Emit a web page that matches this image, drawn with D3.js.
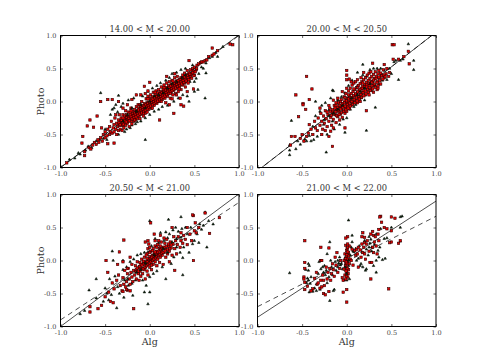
<!DOCTYPE html>
<html>
<head>
<meta charset="utf-8">
<script src="https://cdn.jsdelivr.net/npm/d3@7"></script>
<style>
  html, body { margin: 0; background: #fff; }
  text { font-family: "DejaVu Serif", serif; }
</style>
</head>
<body>
<div id="chart"></div>
<script>
const titles = ['14.00 < M < 20.00', '20.00 < M < 20.50', '20.50 < M < 21.00', '21.00 < M < 22.00'];
const tickValues = [-1, -0.5, 0, 0.5, 1];
const tickLabels = ['-1.0', '-0.5', '0.0', '0.5', '1.0'];

// fit lines, [x0, y0, x1, y1]
const solidLines = [[-1, -1, 1, 1.01], [-1, -1.05, 1, 1.05], [-1, -1.0, 1, 1.01], [-1, -0.86, 1, 0.9]];
const dashedLines = [[-1, -1, 1, 1.0], [-1, -1.05, 1, 1.05], [-1, -0.9, 1, 0.88], [-1, -0.7, 1, 0.67]];

const red1 = [[-.93,-.93],[-.76,-.63],[-.75,-.53],[-.73,-.76],[-.73,-.82],[-.67,-.28],[-.70,-.37],[-.63,-.39],[-.59,-.22],[-.55,0],[-.54,-.40],[-.47,.03],[-.42,.03],[-.35,0],[-.40,-.63],[-.47,-.64],[-.06,.23],[0,.29],[-.02,.16],[.11,-.28],[.19,.38],[.28,.42],[.27,-.18],[.34,.05],[.35,-.05],[.38,-.07],[.49,.19],[.44,.62],[.70,.81],[.90,.87],[.93,.86],
[-.68,-.70],[-.66,-.72],[-.64,-.66],[-.62,-.62],[-.6,-.65],[-.58,-.58],[-.57,-.62],[-.55,-.55],[-.53,-.6],[-.52,-.5],[-.5,-.55],[-.5,-.46],[-.48,-.52],[-.47,-.42],[-.45,-.5],[-.45,-.38],[-.44,-.46],[-.43,-.3],[-.42,-.48],[-.41,-.4],[-.4,-.35],[-.4,-.46],[-.39,-.25],[-.38,-.42],[-.37,-.33],[-.37,-.5],[-.36,-.38],[-.35,-.28],[-.35,-.44],[-.34,-.2],[-.34,-.36],[-.33,-.3],[-.33,-.42],[-.32,-.25],[-.32,-.36],[-.31,-.44],[-.31,-.3],[-.3,-.2],[-.3,-.36],[-.29,-.27],[-.29,-.4],[-.28,-.32],[-.28,-.22],[-.27,-.14],[-.27,-.36],[-.26,-.28],[-.26,-.2],[-.25,-.33],[-.25,-.24],[-.24,-.16],[-.24,-.3],[-.23,-.38],[-.23,-.22],[-.22,-.27],[-.22,-.17],[-.21,-.3],[-.21,-.1],[-.2,-.22],[-.2,-.34],[-.19,-.26],[-.19,-.15],[-.18,-.2],[-.18,-.3],[-.17,-.12],[-.17,-.24],[-.16,-.17],[-.16,-.28],[-.15,-.08],[-.15,-.21],[-.14,-.14],[-.14,-.26],[-.13,-.18],[-.13,-.05],[-.12,-.22],[-.12,-.1],[-.11,-.15],[-.11,-.26],[-.1,-.07],[-.1,-.19],[-.09,-.12],[-.09,0],[-.08,-.16],[-.08,-.06],[-.07,-.22],[-.07,-.1],[-.06,-.03],[-.06,-.14],[-.05,-.18],[-.05,-.07],[-.04,.04],[-.04,-.11],[-.03,-.02],[-.03,-.16],[-.02,-.07],[-.02,.08],[-.01,-.12],[-.01,-.01],[0,.05],[0,-.08],[.01,-.03],[.01,.1],[.02,-.1],[.02,.02],[.03,.07],[.03,-.04],[.04,.01],[.04,.14],[.05,-.06],[.05,.05],[.06,.1],[.06,.0],[.07,.04],[.07,.16],[.08,-.03],[.08,.08],[.09,.13],[.09,.02],[.1,.06],[.1,.18],[.11,.0],[.11,.11],[.12,.15],[.12,.05],[.13,.09],[.13,.22],[.14,.03],[.14,.13],[.15,.18],[.15,.08],[.16,.12],[.16,.25],[.17,.05],[.17,.16],[.18,.21],[.18,.1],[.19,.15],[.19,.28],[.2,.08],[.2,.19],[.21,.24],[.21,.13],[.22,.17],[.22,.3],[.23,.05],[.23,.21],[.24,.26],[.24,.14],[.25,.2],[.25,.32],[.26,.1],[.26,.24],[.27,.28],[.27,.17],[.28,.22],[.28,.36],[.29,.12],[.29,.26],[.3,.31],[.3,.2],[.31,.25],[.31,.38],[.32,.15],[.32,.29],[.33,.33],[.33,.22],[.34,.27],[.35,.36],[.35,.18],[.36,.31],[.37,.25],[.37,.4],[.38,.34],[.39,.28],[.39,.43],[.4,.36],[.41,.3],[.42,.4],[.42,.47],[.43,.34],[.44,.43],[.45,.38],[.46,.48],[.47,.42],[.48,.5],[.49,.46],[.5,.4],[.5,.52],[.52,.48],[.53,.55],[.55,.57],[.57,.59],[.58,.6],[.6,.6],[.62,.62],[.64,.63],[.66,.68],[.7,.7],[.72,.72],[.76,.77],[.4,.22],[.42,.15],[.3,.1],[.22,-.05],[.18,-.02],[.25,.04],[-.15,.1],[-.2,.03],[-.25,-.05],[-.3,-.1],[-.38,-.2],[-.1,.1],[-.05,.12]];
const core1 = [[-.345,-.325],[-.332,-.352],[-.318,-.29],[-.305,-.322],[-.296,-.345],[-.288,-.262],[-.276,-.295],[-.263,-.31],[-.257,-.245],[-.248,-.272],[-.236,-.256],[-.229,-.292],[-.217,-.205],[-.209,-.235],[-.198,-.262],[-.192,-.19],[-.183,-.218],[-.176,-.245],[-.168,-.176],[-.161,-.205],[-.153,-.232],[-.146,-.155],[-.138,-.184],[-.131,-.21],[-.124,-.128],[-.117,-.165],[-.109,-.19],[-.103,-.112],[-.096,-.145],[-.089,-.172],[-.083,-.092],[-.076,-.122],[-.069,-.15],[-.062,-.07],[-.056,-.104],[-.049,-.13],[-.043,-.05],[-.036,-.085],[-.029,-.112],[-.023,-.03],[-.016,-.062],[-.009,-.09],[-.003,-.012],[.004,-.045],[.011,-.07],[.017,.018],[.024,-.022],[.031,-.05],[.037,.036],[.044,-.006],[.051,-.03],[.057,.055],[.064,.018],[.071,-.012],[.077,.074],[.084,.034],[.091,.006],[.097,.095],[.104,.052],[.111,.026],[.117,.115],[.124,.072],[.131,.044],[.137,.135],[.144,.094],[.151,.064],[.157,.152],[.164,.112],[.171,.084],[.177,.175],[.184,.132],[.191,.104],[.197,.196],[.204,.154],[.211,.124],[.217,.214],[.224,.172],[.231,.145],[.237,.236],[.244,.192],[.251,.164],[.257,.255],[.264,.214],[.271,.185],[.277,.276],[.284,.234],[.291,.205],[.297,.296],[.304,.254],[.311,.226],[.318,.316],[.326,.275],[.334,.244],[.342,.335],[.35,.294],[.358,.265],[.366,.352],[.374,.315],[.382,.288],[.39,.372],[.398,.334],[.408,.31],[.418,.392],[.428,.356],[.438,.33],[.448,.412],[.458,.374],[.47,.352],[.482,.436],[.495,.392],[.51,.45],[.525,.5],[-.02,.04],[.06,.14],[.16,.21],[.26,.31],[-.11,-.05],[-.21,-.14],[-.3,-.25],[.13,.0],[.23,.12],[.33,.19],[-.07,-.18],[-.17,-.28],[.03,-.1],[.43,.28]];
const tri1 = [[-.55,.13],[-.05,-.58],[.62,.05],[-.35,.09],[-.84,-.86],[-.78,-.8],[-.8,-.78],[-.9,-.88],[.63,.43],[.76,.68],[.5,.15],[.54,.18],[.44,0],[-.72,-.74],[-.69,-.68],[-.65,-.7],[-.6,-.6],[-.56,-.58],[-.52,-.56],[-.5,-.42],[-.48,-.58],[-.44,-.2],[-.42,-.12],[-.4,-.1],[-.38,-.05],[-.36,-.16],[-.35,-.5],[-.32,-.08],[-.3,-.03],[-.28,-.46],[-.26,-.42],[-.24,.02],[-.22,-.4],[-.2,-.36],[-.18,.05],[-.16,-.34],[-.14,-.31],[-.1,-.3],[-.08,.08],[-.05,-.25],[-.02,.15],[0,-.2],[.03,.2],[.05,-.15],[.08,.24],[.1,-.12],[.12,.28],[.14,-.08],[.18,.32],[.2,-.06],[.22,.36],[.25,.42],[.27,.0],[.3,.44],[.32,.05],[.35,.48],[.37,.1],[.4,.5],[.42,.08],[.45,.3],[.48,.55],[.5,.3],[.52,.35],[.55,.42],[.58,.52],[.6,.5],[.63,.58],[.67,.66],[.7,.68],[.74,.74],[.82,.83]];
const top1 = [[-.2,-.1],[-.1,-.05],[.0,.0],[.1,.1],[.2,.2],[.3,.3],[-.3,-.3],[-.15,-.15],[.05,.08],[.15,.13],[.25,.27],[.36,.36],[-.25,-.2],[-.05,-.1],[.4,.4]];

// panel 2
const red2 = [[.51,.86],[.53,.86],[-.45,.38],[-.39,.19],[-.57,.10],[-.42,.03],[-.49,-.03],[-.49,-.05],[-.46,-.12],[-.54,-.23],[0,.47],[0,.40],[0,.33],[-.16,-.68],[-.02,-.40],[-.2,-.53],[-.63,-.66],[-.62,-.53],[-.58,-.53],[.29,.58],[.19,.44],[.64,.68],[.69,.76],[.70,.57],[.52,.64],[.58,.64],[.42,.56],[.34,.18],[.22,-.14],
[-.52,-.56],[-.5,-.5],[-.48,-.6],[-.45,-.53],[-.43,-.48],[-.42,-.35],[-.4,-.42],[-.38,-.5],[-.36,-.3],[-.35,-.4],[-.33,-.44],[-.32,-.25],[-.3,-.36],[-.29,-.18],[-.28,-.3],[-.27,-.42],[-.26,-.22],[-.25,-.33],[-.24,-.14],[-.23,-.26],[-.22,-.38],[-.21,-.2],[-.2,-.3],[-.19,-.1],[-.18,-.24],[-.17,-.36],[-.16,-.16],[-.15,-.27],[-.14,-.06],[-.13,-.2],[-.12,-.32],[-.11,-.12],[-.1,-.23],[-.09,-.02],[-.09,-.15],[-.08,-.28],[-.07,-.08],[-.07,-.19],[-.06,.03],[-.06,-.11],[-.05,-.24],[-.05,-.03],[-.04,-.14],[-.03,.07],[-.03,-.07],[-.02,-.18],[-.02,.01],[-.01,-.1],[-.01,.12],[0,-.03],[0,-.15],[.01,.05],[.01,-.07],[.02,.16],[.02,-.01],[.03,-.11],[.03,.09],[.04,.02],[.04,.2],[.05,-.06],[.05,.12],[.06,.05],[.06,.25],[.07,-.02],[.07,.15],[.08,.08],[.08,.28],[.09,.02],[.09,.18],[.1,.11],[.1,.3],[.11,.05],[.11,.21],[.12,.14],[.12,.33],[.13,.08],[.13,.24],[.14,.17],[.15,.27],[.15,.1],[.16,.2],[.16,.36],[.17,.13],[.17,.3],[.18,.23],[.19,.16],[.19,.33],[.2,.26],[.21,.1],[.21,.36],[.22,.29],[.23,.19],[.23,.4],[.24,.32],[.25,.25],[.25,.43],[.26,.35],[.27,.2],[.27,.45],[.28,.38],[.29,.3],[.3,.41],[.3,.24],[.31,.35],[.32,.45],[.33,.38],[.34,.3],[.35,.42],[.36,.47],[.37,.36],[.38,.43],[.4,.4],[.41,.48],[.42,.36],[.44,.42],[.45,.5],[.47,.38],[.48,.44],[-.15,-.4],[-.18,-.45],[-.24,-.44],[-.28,-.5],[-.12,-.02],[-.1,.05],[-.15,.02],[-.2,-.06],[.05,.3],[.0,.2],[.03,.34],[.15,.0],[.12,-.02],[.25,.1],[.3,.14],[.35,.2],[-.05,.15],[-.3,-.1]];
const core2 = [[-.185,-.15],[-.172,-.21],[-.158,-.125],[-.145,-.19],[-.132,-.1],[-.124,-.155],[-.112,-.215],[-.103,-.085],[-.094,-.135],[-.086,-.195],[-.077,-.06],[-.068,-.115],[-.059,-.17],[-.051,-.04],[-.043,-.09],[-.034,-.15],[-.026,-.02],[-.018,-.07],[-.009,-.125],[-.002,.01],[.007,-.045],[.015,-.1],[.023,.04],[.032,-.025],[.041,-.07],[.049,.06],[.057,.0],[.066,-.045],[.074,.09],[.083,.03],[.091,-.02],[.099,.115],[.108,.055],[.116,.008],[.124,.145],[.133,.08],[.141,.036],[.149,.175],[.158,.105],[.166,.06],[.174,.2],[.183,.135],[.191,.085],[.199,.225],[.208,.16],[.216,.115],[.224,.25],[.233,.185],[.241,.14],[.249,.275],[.258,.21],[.266,.165],[.274,.3],[.283,.24],[.291,.19],[.3,.325],[.31,.265],[.32,.215],[.33,.35],[.34,.29],[.35,.24],[.36,.37],[.37,.315],[.38,.265],[.392,.39],[.405,.34],[.418,.4],[.43,.375],[-.02,.06],[.08,.19],[.18,.28],[-.12,-.06],[-.22,-.16],[.28,.29],[.02,.1],[.12,.21],[-.07,.0],[.22,.22]];
const tri2 = [[.69,.87],[-.62,-.29],[-.35,0],[-.64,-.66],[-.64,-.74],[-.64,-.81],[-.57,-.72],[-.23,-.77],[.22,-.44],[-.02,-.47],[.75,.62],[.75,.48],[.58,.33],[.63,.64],[.32,-.09],[.18,.56],[.12,.44],[-.16,.17],[-.15,.16],[-.40,-.6],[-.45,-.6],[-.37,-.58],[-.55,-.6],[-.52,-.65],[-.47,-.57],[-.42,-.52],[-.38,-.38],[-.35,-.22],[-.33,-.53],[-.3,-.15],[-.28,-.06],[-.26,-.35],[-.24,-.02],[-.22,-.5],[-.2,-.13],[-.18,.05],[-.16,-.3],[-.14,-.42],[-.12,-.12],[-.1,.02],[-.08,-.35],[-.06,.07],[-.04,-.27],[-.02,.13],[0,-.25],[.02,.24],[.04,-.12],[.06,.32],[.08,-.08],[.1,-.05],[.12,.24],[.14,.04],[.16,.05],[.18,.4],[.2,.02],[.22,.38],[.24,.14],[.26,.48],[.28,.16],[.3,.5],[.32,.24],[.34,.5],[.36,.26],[.38,.5],[.4,.32],[.42,.47],[.45,.33],[.48,.5],[.5,.42],[.53,.6],[.55,.62],[.6,.62]];
const top2 = [[.12,.1],[.05,.05],[-.05,-.06],[-.1,-.12],[-.2,-.22],[.2,.2],[-.15,-.18],[.15,.15],[-.25,-.28],[.26,.27]];

// panel 3
const red3 = [[.78,.65],[.62,.72],[.49,.68],[.48,.69],[.01,.57],[-.29,.31],[-.49,0],[-.34,.13],[-.18,-.73],[-.67,-.78],[-.67,-.70],[-.58,-.73],[-.54,-.68],[-.41,-.64],[-.47,-.18],[.49,0],[.28,-.15],[.67,.41],[.51,.57],[.55,.5],[.52,.42],[.42,.5],[.35,.42],[.25,.5],[.05,.4],[-.02,.3],[-.05,.28],[.12,.38],
[-.5,-.55],[-.46,-.48],[-.44,-.62],[-.42,-.34],[-.4,-.43],[-.37,-.3],[-.35,-.22],[-.33,-.38],[-.31,-.46],[-.3,-.26],[-.29,-.36],[-.28,-.15],[-.27,-.4],[-.26,-.32],[-.25,-.45],[-.25,-.2],[-.24,-.12],[-.23,-.28],[-.22,-.36],[-.21,-.18],[-.2,-.25],[-.2,-.06],[-.19,-.32],[-.18,-.15],[-.17,-.22],[-.16,-.08],[-.15,-.28],[-.15,-.14],[-.14,-.02],[-.13,-.2],[-.12,-.1],[-.12,-.3],[-.11,-.16],[-.1,-.06],[-.1,-.24],[-.09,.02],[-.08,-.12],[-.08,-.2],[-.07,-.05],[-.06,-.14],[-.06,.05],[-.05,-.1],[-.05,-.28],[-.04,-.02],[-.03,-.16],[-.03,.1],[-.02,-.06],[-.02,-.22],[-.01,0],[0,-.1],[0,.06],[.01,-.03],[.01,.14],[.02,-.14],[.02,.02],[.03,.08],[.04,-.06],[.04,.18],[.05,.03],[.05,.12],[.06,-.02],[.06,.22],[.07,.06],[.08,.14],[.08,-.08],[.09,.02],[.09,.24],[.1,.09],[.11,.18],[.11,-.03],[.12,.05],[.13,.14],[.13,.28],[.14,.08],[.15,.2],[.15,-.06],[.16,.12],[.17,.26],[.18,.05],[.18,.16],[.19,.32],[.2,.1],[.21,.22],[.22,-.02],[.22,.14],[.23,.28],[.24,.19],[.25,.08],[.26,.25],[.27,.36],[.28,.18],[.29,.3],[.3,.1],[.31,.24],[.32,.36],[.34,.2],[.35,.3],[.37,.26],[.38,.38],[.4,.32],[.42,.24],[.45,.4],[.47,.3],[.5,.45],[-.3,-.47],[-.26,-.44],[-.22,-.46],[-.02,.18],[-.01,.25],[0,.2],[.06,.3],[.1,.3],[.16,.34],[-.36,-.06],[-.3,-.02],[-.25,-.12],[-.22,.05]];
const core3 = [[-.155,-.17],[-.14,-.115],[-.126,-.16],[-.112,-.09],[-.098,-.14],[-.086,-.07],[-.074,-.125],[-.063,-.05],[-.052,-.1],[-.044,-.035],[-.035,-.08],[-.027,-.015],[-.018,-.06],[-.01,.015],[-.002,-.04],[.007,.03],[.015,-.02],[.023,.05],[.032,.0],[.04,.07],[.048,.02],[.057,.09],[.065,.04],[.073,.105],[.082,.06],[.09,.125],[.098,.075],[.107,.145],[.115,.09],[.123,.165],[.132,.11],[.14,.18],[.15,.125],[.16,.2],[.172,.145],[.185,.215],[.198,.165],[.21,.25],[.224,.18],[.24,.235],[-.03,.03],[.0,.12],[.03,.15],[-.07,-.01],[.06,.13],[.12,.22],[-.11,-.03],[-.04,.08],[.08,.2],[.02,-.07]];
const tri3 = [[-.68,-.45],[-.6,-.28],[-.45,-.28],[-.42,.14],[-.41,0],[-.3,0],[-.78,-.81],[-.73,-.76],[-.37,-.72],[-.02,-.66],[.37,.04],[.37,-.22],[.18,-.28],[.64,.2],[.62,.73],[.35,.66],[.21,.62],[0,.6],[-.06,-.48],[0,-.48],[-.29,-.56],[-.19,-.53],[.6,.53],[.71,.55],[.55,.27],[-.6,-.57],[-.52,-.62],[-.5,-.42],[-.48,-.5],[-.46,-.6],[-.43,-.52],[-.39,-.24],[-.36,-.4],[-.34,-.5],[-.3,-.14],[-.28,-.3],[-.26,-.1],[-.24,-.38],[-.22,-.02],[-.2,-.35],[-.18,.02],[-.16,-.3],[-.14,.08],[-.12,-.2],[-.1,.1],[-.08,-.3],[-.06,.12],[-.04,-.38],[-.02,.13],[0,-.25],[.02,.22],[.04,-.2],[.06,.33],[.08,-.16],[.1,.27],[.12,.42],[.14,-.1],[.16,.3],[.18,.43],[.2,.34],[.22,.4],[.24,-.05],[.26,.46],[.27,.05],[.29,.5],[.3,.2],[.32,.44],[.34,.12],[.36,.48],[.38,.2],[.4,.5],[.42,.4],[.44,.12],[.46,.5],[.48,.25],[.5,.3],[.53,.4],[.56,.55],[.58,.47],[.66,.6]];
const top3 = [[-.05,-.04],[.05,.08],[.15,.18],[-.15,-.18],[-.1,-.14],[.25,.28],[.35,.35],[-.25,-.28],[.3,.33],[.2,.12]];

// panel 4
const red4 = [[-.47,.30],[.47,-.43],[0,-.63],[0,-.44],[.27,-.28],[.5,.66],[.38,.67],[.54,.64],[.39,.58],[.37,.66],[.45,.48],[.5,.45],[.29,.44],[.36,.47],[.18,.42],[.17,.36],[.01,.36],[-.01,.34],[-.29,.2],[-.2,.19],[.2,.35],[.27,.4],[.3,.38],[.32,.36],[.35,.4],[.42,.5],[.6,.3],[.58,.26],[.5,.28],[.48,.27],
[-.47,-.03],[-.47,-.12],[-.48,-.25],[-.48,-.28],[-.47,-.33],[-.47,-.44],[-.44,-.39],[-.38,-.43],[-.34,-.18],[-.33,-.36],[-.32,-.34],[-.3,-.42],[-.29,-.3],[-.29,.0],[-.28,-.4],[-.27,-.22],[-.26,-.5],[-.26,-.3],[-.25,-.38],[-.24,-.52],[-.23,-.1],[-.22,-.28],[-.21,-.18],[-.2,-.47],[-.19,-.12],[-.18,-.3],[-.17,-.2],[-.16,-.05],[-.15,-.14],[-.14,-.24],[-.13,.05],[-.12,-.07],[-.11,.12],[-.1,-.18],[-.08,-.12],[-.07,.0],[-.05,-.26],[-.04,-.48],[-.04,-.3],[-.03,.0],[-.03,-.13],[-.02,-.22],[-.02,.1],[-.01,-.04],[-.01,-.28],[-.01,.23],[0,.05],[0,-.1],[0,-.18],[.0,.15],[.01,-.02],[.01,-.25],[.01,.25],[.02,.07],[.02,-.14],[.02,.12],[.03,-.05],[.03,.22],[.04,.02],[.05,.0],[.06,.17],[.07,-.07],[.09,.15],[.1,.08],[.11,.17],[.12,.1],[.13,-.1],[.15,.16],[.16,.05],[.17,.25],[.18,.12],[.19,.2],[.2,.27],[.21,.02],[.22,.25],[.23,.3],[.25,.14],[.26,-.03],[.28,-.03],[.29,.2],[.3,.12],[.31,.28],[.33,.22],[.34,.1],[.36,.3],[-.4,-.46],[-.36,-.27],[-.28,.0],[.13,.2],[.2,.1]];
const core4 = [[0,-.05],[.005,-.12],[-.005,-.02],[.008,.02],[-.008,-.16],[0,.09],[.004,.18],[-.004,-.24],[.012,.13],[-.012,.03],[.015,-.2],[-.015,-.08],[.01,.2]];
const tri4 = [[-.64,-.19],[.02,.61],[-.19,-.61],[.62,.67],[.6,.66],[.6,.29],[.6,.5],[.43,.03],[.4,.01],[-.19,.28],[-.43,-.05],[.06,.38],[.38,.48],[.5,.5],[.42,.33],[.45,.34],[.25,.36],[.31,.24],[.33,.4],[.25,.2],[.27,.32],[.2,.3],[.35,.15],[.37,.2],[.33,.0],[.33,-.18],[.3,-.08],[.22,-.13],[.21,-.15],[.18,-.1],[.16,-.05],[.15,-.08],[.13,.03],[.1,.18],[.08,.13],[.06,.28],[.05,.2],[.04,.08],[.03,-.28],[.02,-.08],[.01,.1],[0,-.3],[-.01,-.15],[-.02,.04],[-.03,-.3],[-.05,-.13],[-.07,-.07],[-.09,-.04],[-.1,-.1],[-.12,-.15],[-.13,-.02],[-.14,-.44],[-.15,-.46],[-.16,-.22],[-.17,-.1],[-.18,.0],[-.2,-.25],[-.22,.1],[-.23,-.15],[-.24,-.22],[-.25,-.08],[-.27,-.1],[-.29,-.13],[-.3,-.44],[-.32,-.2],[-.34,-.46],[-.36,-.42],[-.38,-.47],[-.4,-.25],[-.42,-.48],[-.43,-.3],[-.44,-.27],[-.45,-.34],[-.43,-.15],[-.42,-.08],[-.46,-.14],[-.41,-.35],[-.34,-.36],[-.31,-.02],[-.26,-.18],[-.22,-.34],[-.1,.0],[-.08,.05],[.07,.14],[.11,.0],[.14,.22],[.17,.13],[.24,.08],[.26,.26],[.28,.14],[.36,.05],[.28,.2],[.22,.17]];
const top4 = [[-.02,-.1],[.02,.0],[.0,-.2],[-.06,-.05]];

const redSeries = [red1.concat(core1), red2.concat(core2), red3.concat(core3), red4.concat(core4)];
const triSeries = [tri1, tri2, tri3, tri4];
const topSeries = [top1, top2, top3, top4];

const width = 485, height = 363;
const panelW = 178.5, panelH = 132;
const lefts = [60.5, 257.5, 60.5, 257.5];
const tops = [35.5, 35.5, 194.5, 194.5];

const svg = d3.select('#chart').append('svg')
    .attr('width', width)
    .attr('height', height)
    .style('display', 'block');

const x = d3.scaleLinear().domain([-1, 1]).range([0, panelW]);
const y = d3.scaleLinear().domain([-1, 1]).range([panelH, 0]);
const triangle = d3.symbol().type(d3.symbolTriangle).size(3);

svg.append('clipPath').attr('id', 'clip')
    .append('rect').attr('width', panelW).attr('height', panelH);

function drawTriangles(plot, points) {
    plot.append('g').selectAll('path').data(points).enter().append('path')
        .attr('d', triangle)
        .attr('transform', d => `translate(${x(d[0])},${y(d[1])})`)
        .attr('fill', '#0a2a0a')
        .attr('stroke', '#000')
        .attr('stroke-width', 0.5);
}

titles.forEach((title, i) => {
    const g = svg.append('g').attr('transform', `translate(${lefts[i]},${tops[i]})`);
    const plot = g.append('g').attr('clip-path', 'url(#clip)');

    const drawLine = (l, dash) => plot.append('line')
        .attr('x1', x(l[0])).attr('y1', y(l[1]))
        .attr('x2', x(l[2])).attr('y2', y(l[3]))
        .attr('stroke', '#000')
        .attr('stroke-width', 0.7)
        .attr('stroke-dasharray', dash);
    drawLine(dashedLines[i], '5,4');
    drawLine(solidLines[i], null);

    drawTriangles(plot, triSeries[i]);

    plot.append('g').selectAll('rect').data(redSeries[i]).enter().append('rect')
        .attr('x', d => x(d[0]) - 1.2)
        .attr('y', d => y(d[1]) - 1.2)
        .attr('width', 2.4)
        .attr('height', 2.4)
        .attr('fill', '#e80000')
        .attr('stroke', '#300')
        .attr('stroke-width', 0.6);

    drawTriangles(plot, topSeries[i]);

    const fmt = d => tickLabels[tickValues.indexOf(d)];
    const axes = [
        [d3.axisBottom(x), `translate(0,${panelH})`, true],
        [d3.axisTop(x), 'translate(0,0)', false],
        [d3.axisLeft(y), 'translate(0,0)', true],
        [d3.axisRight(y), `translate(${panelW},0)`, false]
    ];
    axes.forEach(([axis, tr, labelled]) => {
        axis.tickValues(tickValues).tickSizeOuter(0).tickSizeInner(-2.5).tickPadding(4)
            .tickFormat(labelled ? fmt : '');
        const a = g.append('g').attr('transform', tr).call(axis);
        a.select('.domain').remove();
        a.selectAll('line').attr('stroke', '#000').attr('stroke-width', 0.6);
        a.selectAll('text').attr('fill', '#444').style('font-size', '6.5px')
            .style('font-family', '"DejaVu Serif", serif');
    });

    g.append('rect')
        .attr('width', panelW).attr('height', panelH)
        .attr('fill', 'none').attr('stroke', '#000').attr('stroke-width', 1);

    g.append('text')
        .attr('x', panelW / 2).attr('y', -3.5)
        .attr('text-anchor', 'middle')
        .attr('fill', '#333')
        .style('font-size', '8.3px')
        .text(title);

    if (i % 2 === 0) {
        g.append('text')
            .attr('transform', `translate(-17,${panelH / 2}) rotate(-90)`)
            .attr('text-anchor', 'middle')
            .attr('fill', '#333')
            .style('font-size', '9.5px')
            .text('Photo');
    }
    if (i >= 2) {
        g.append('text')
            .attr('x', panelW / 2).attr('y', panelH + 18.5)
            .attr('text-anchor', 'middle')
            .attr('fill', '#333')
            .style('font-size', '9.5px')
            .text('Alg');
    }
});
</script>
</body>
</html>
